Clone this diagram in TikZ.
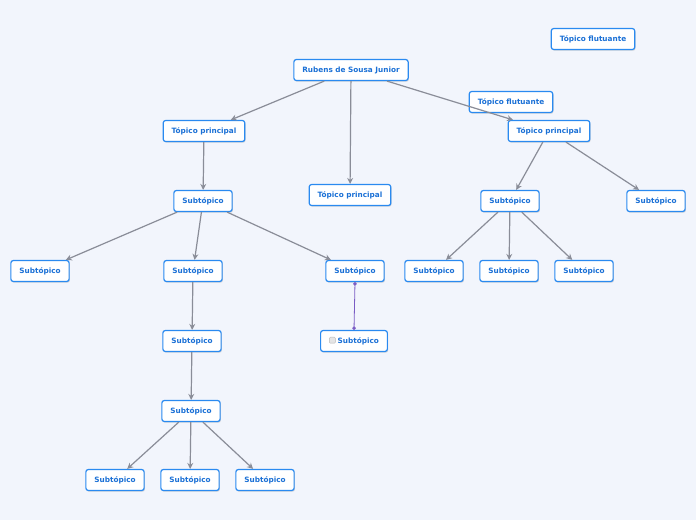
\documentclass[tikz,border=0pt]{standalone}
\usepackage{fontspec}
\setmainfont{DejaVu Sans}
\usepackage{xcolor}
\definecolor{mapBack}{HTML}{F2F5FC}
\definecolor{topicBlue}{HTML}{2A8AF0}
\definecolor{topicText}{HTML}{1A70D6}
\definecolor{linkGray}{HTML}{8A8D98}
\definecolor{relPurple}{HTML}{7A5CC4}
\usepackage{tikz}
\usetikzlibrary{positioning,arrows.meta,shadows}

\begin{document}
\begin{tikzpicture}[x=1pt, y=-1pt,
    every node/.style={font=\fontsize{7.3}{8}\selectfont\bfseries, text=topicText},
    topic/.style={draw=topicBlue, line width=1.2pt, fill=white, rounded corners=2.5pt,
      minimum height=21pt, inner xsep=8.5pt, inner ysep=2pt,
      drop shadow={shadow xshift=0.8pt, shadow yshift=-1.2pt, opacity=0.3}},
    link/.style={draw=linkGray, line width=1.2pt, -{Stealth[length=6pt,width=6pt]}},
    rel/.style={draw=relPurple, line width=0.8pt,
      {Circle[length=3.5pt]}-{Circle[length=3.5pt]}}]
  % Background
  \fill[mapBack] (0,0) rectangle (696,520);
  \useasboundingbox (0,0) rectangle (696,520);
  % Central topic and main topics
  \node[topic] (root) at (351,70) {Rubens de Sousa Junior};
  \node[topic] (tp1) at (204,131) {Tópico principal};
  \node[topic] (tp2) at (350,195) {Tópico principal};
  \node[topic] (tp3) at (549,131) {Tópico principal};
  % Floating topics
  \node[topic] (fl1) at (593,39) {Tópico flutuante};
  \node[topic] (fl2) at (511,102) {Tópico flutuante};
  % Left branch
  \node[topic] (s1) at (203,201) {Subtópico};
  \node[topic] (s11) at (40,271) {Subtópico};
  \node[topic] (s12) at (193,271) {Subtópico};
  \node[topic] (s13) at (355,271) {Subtópico};
  \node[topic] (s121) at (192,341) {Subtópico};
  \node[topic] (s122) at (191,411) {Subtópico};
  \foreach \x/\n in {115/1, 190/2, 265/3}
    \node[topic] (leaf\n) at (\x,480) {Subtópico};
  \node[topic] (s131) at (354,341) {\tikz\draw[gray!55, fill=gray!20, line width=0.5pt,
    rounded corners=1pt] (0,0) rectangle (6pt,6pt);\hspace{2pt}Subtópico};
  % Right branch
  \node[topic] (s2) at (510,201) {Subtópico};
  \node[topic] (s3) at (656,201) {Subtópico};
  \foreach \x/\n in {434/1, 509/2, 584/3}
    \node[topic] (r\n) at (\x,271) {Subtópico};
  % Connectors
  \draw[link] (root) -- (tp1);
  \draw[link] (root) -- (tp2);
  \draw[link] (root) -- (tp3);
  \draw[link] (tp1) -- (s1);
  \draw[link] (s1) -- (s11);
  \draw[link] (s1) -- (s12);
  \draw[link] (s1) -- (s13);
  \draw[link] (s12) -- (s121);
  \draw[link] (s121) -- (s122);
  \foreach \n in {1,2,3}
    \draw[link] (s122) -- (leaf\n);
  \draw[link] (tp3) -- (s2);
  \draw[link] (tp3) -- (s3);
  \foreach \n in {1,2,3}
    \draw[link] (s2) -- (r\n);
  \draw[rel] (s13.south) -- (s131.north);
\end{tikzpicture}
\end{document}
